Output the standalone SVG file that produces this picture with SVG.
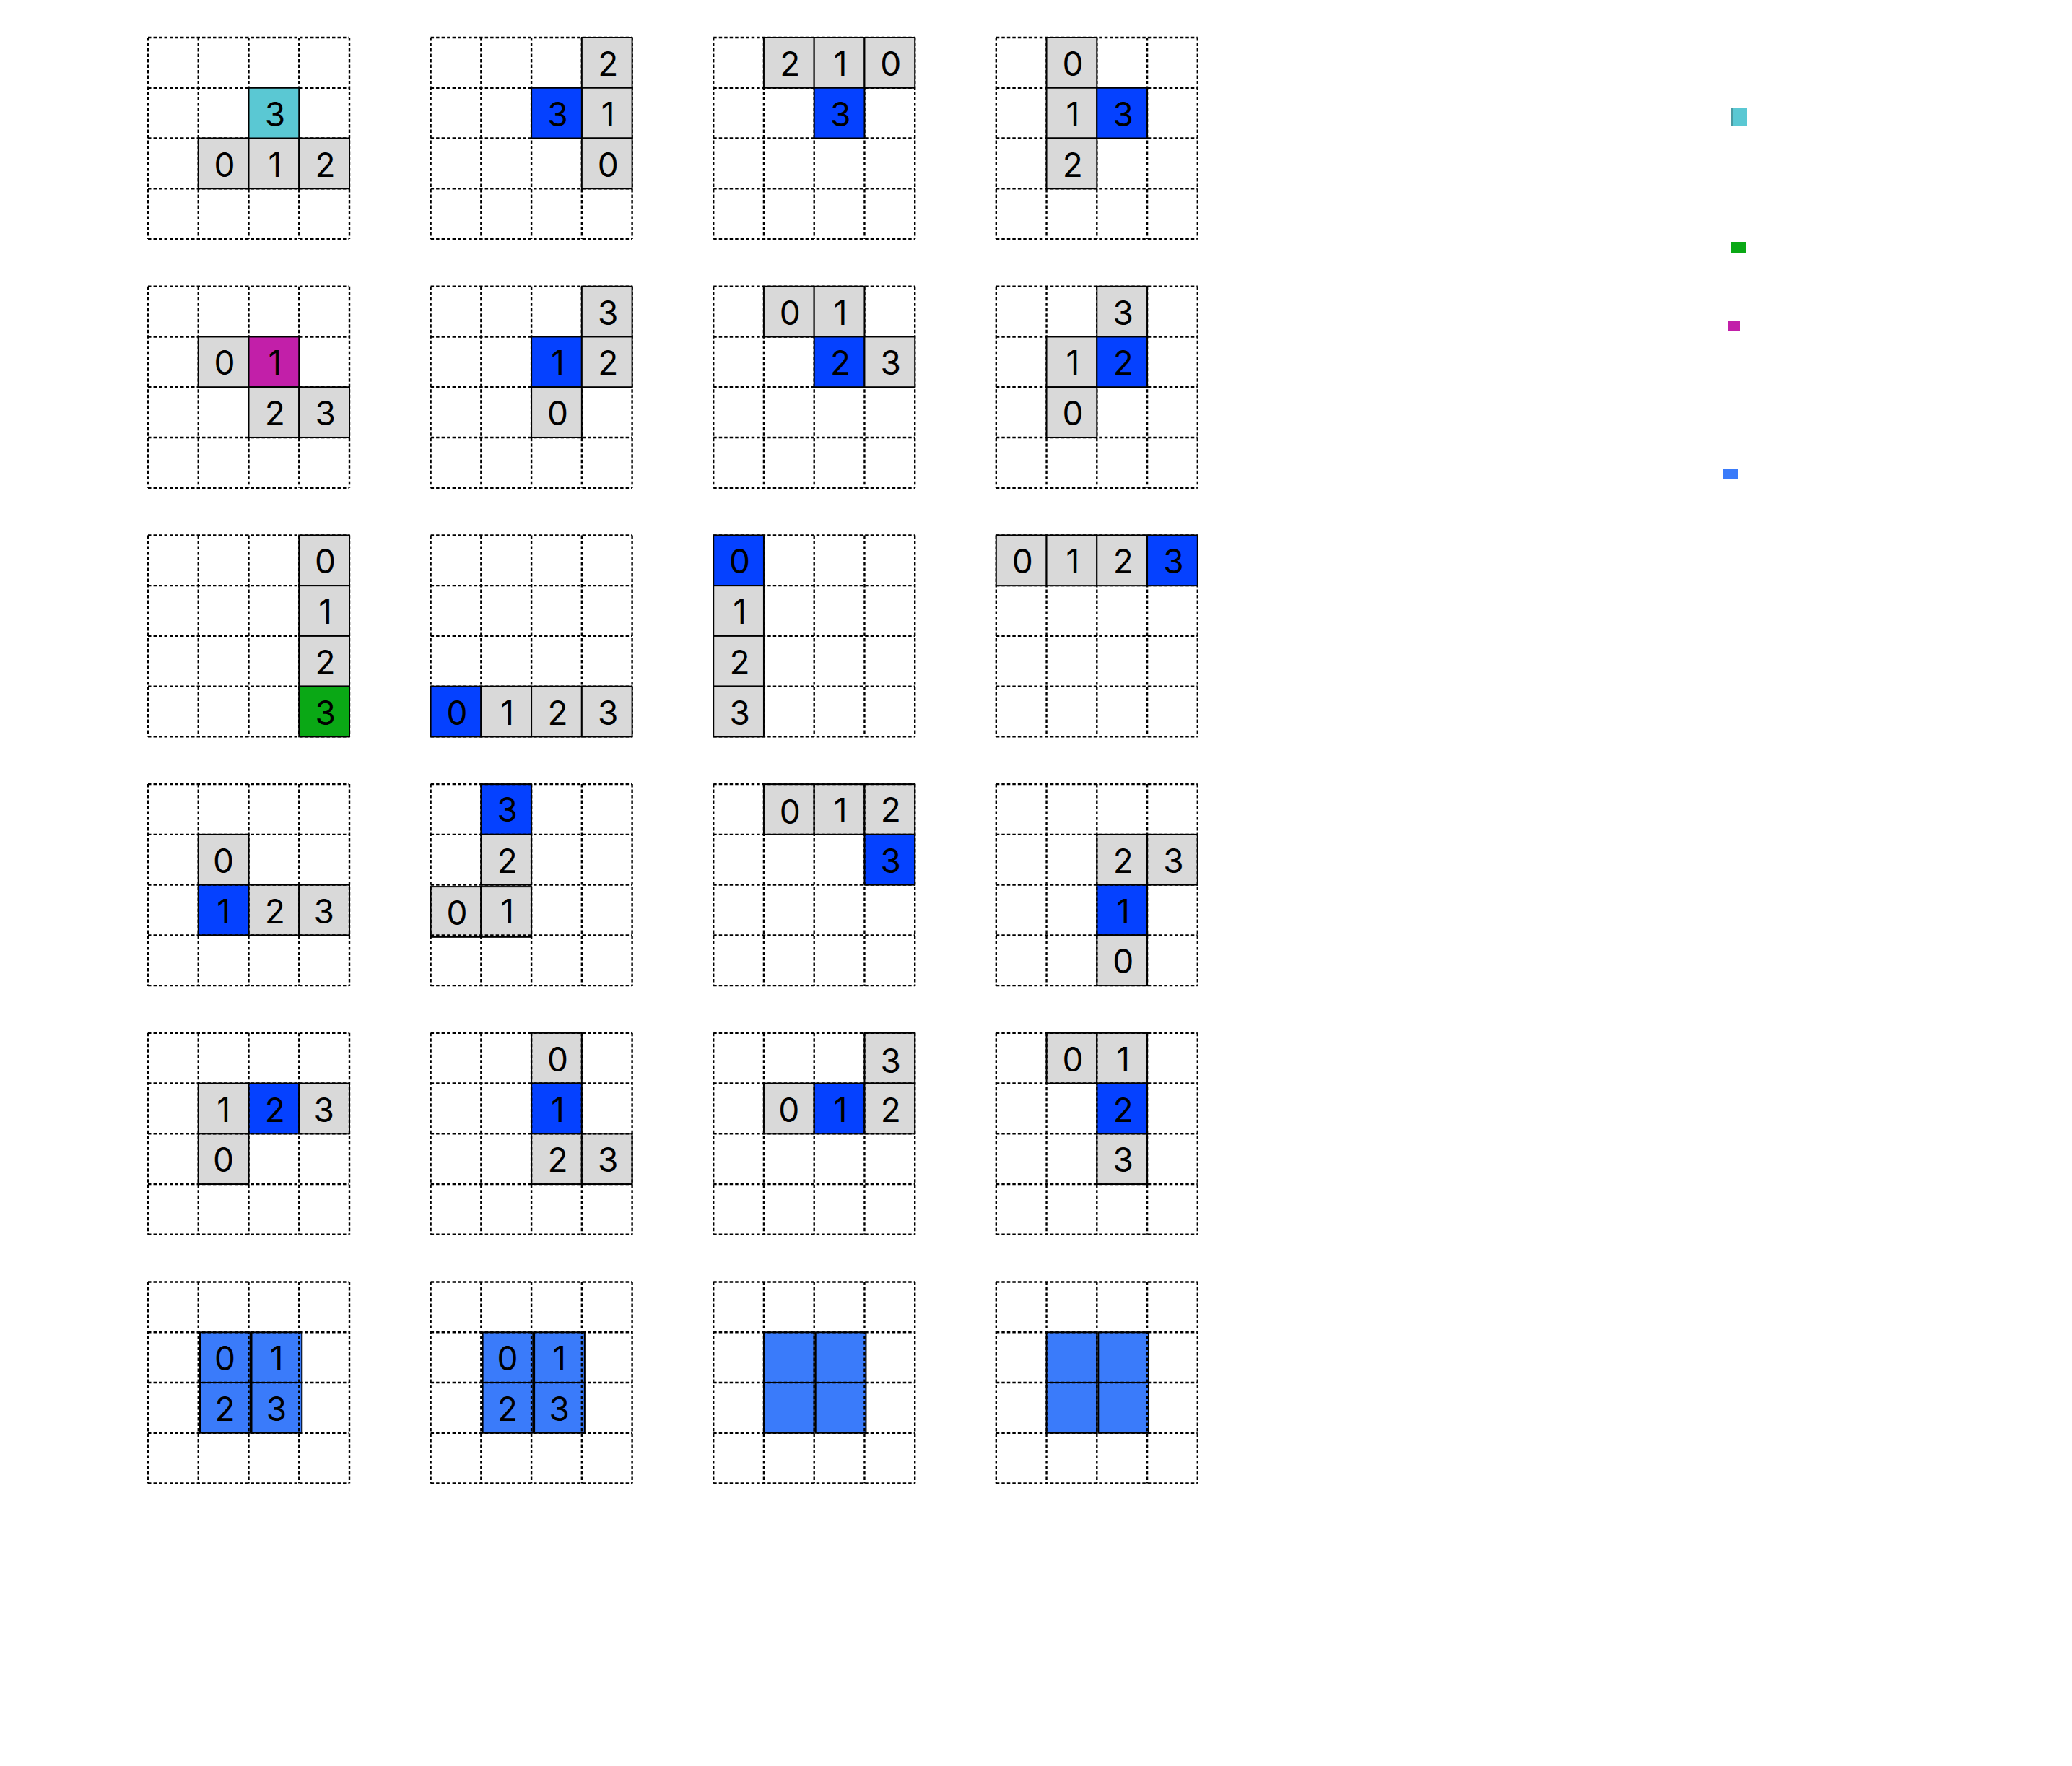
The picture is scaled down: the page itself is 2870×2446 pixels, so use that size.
<svg xmlns="http://www.w3.org/2000/svg" xmlns:xlink="http://www.w3.org/1999/xlink" width="2870" height="2446" viewBox="0 0 2870 2446">
<style>
.gl{stroke:#000;stroke-width:2.4;stroke-dasharray:4.5 3;fill:none}
.cell{stroke:#000;stroke-width:2}
.g{fill:#d9d9d9}
.b{fill:#0541ff}
.c{fill:#5ac8d3}
.m{fill:#c21fa9}
.gr{fill:#0aa815}
.lb{fill:#3a7bfa}
.t{font-family:Inter,"Liberation Sans",sans-serif;font-size:46px;text-anchor:middle;fill:#000}
</style>
<defs>
<g id="grid">
<line class="gl" x1="0" y1="0" x2="279" y2="0"/>
<line class="gl" x1="0" y1="69.75" x2="279" y2="69.75"/>
<line class="gl" x1="0" y1="139.5" x2="279" y2="139.5"/>
<line class="gl" x1="0" y1="209.25" x2="279" y2="209.25"/>
<line class="gl" x1="0" y1="279" x2="279" y2="279"/>
<line class="gl" x1="0" y1="0" x2="0" y2="279"/>
<line class="gl" x1="69.75" y1="0" x2="69.75" y2="279"/>
<line class="gl" x1="139.5" y1="0" x2="139.5" y2="279"/>
<line class="gl" x1="209.25" y1="0" x2="209.25" y2="279"/>
<line class="gl" x1="279" y1="0" x2="279" y2="279"/>
</g>
</defs>
<rect width="2870" height="2446" fill="#fff"/>
<g id="connectors"/>

<!-- Row 1 -->
<g id="p1-1" transform="translate(205,52)">
<use xlink:href="#grid"/>
<rect class="cell g" x="69.75" y="139.5" width="69.75" height="69.75"/><text class="t" x="106.1" y="192.5">0</text>
<rect class="cell g" x="139.5" y="139.5" width="69.75" height="69.75"/><text class="t" x="175.9" y="192.5">1</text>
<rect class="cell g" x="209.25" y="139.5" width="69.75" height="69.75"/><text class="t" x="245.6" y="192.5">2</text>
<rect class="cell c" x="139.5" y="69.75" width="69.75" height="69.75"/><text class="t" x="175.9" y="122.75">3</text>
</g>
<g id="p1-2" transform="translate(596.6,52)">
<use xlink:href="#grid"/>
<rect class="cell g" x="209.25" y="0" width="69.75" height="69.75"/><text class="t" x="245.6" y="53">2</text>
<rect class="cell g" x="209.25" y="69.75" width="69.75" height="69.75"/><text class="t" x="245.6" y="122.75">1</text>
<rect class="cell g" x="209.25" y="139.5" width="69.75" height="69.75"/><text class="t" x="245.6" y="192.5">0</text>
<rect class="cell b" x="139.5" y="69.75" width="69.75" height="69.75"/><text class="t" x="175.9" y="122.75">3</text>
</g>
<g id="p1-3" transform="translate(988.2,52)">
<use xlink:href="#grid"/>
<rect class="cell g" x="69.75" y="0" width="69.75" height="69.75"/><text class="t" x="106.1" y="53">2</text>
<rect class="cell g" x="139.5" y="0" width="69.75" height="69.75"/><text class="t" x="175.9" y="53">1</text>
<rect class="cell g" x="209.25" y="0" width="69.75" height="69.75"/><text class="t" x="245.6" y="53">0</text>
<rect class="cell b" x="139.5" y="69.75" width="69.75" height="69.75"/><text class="t" x="175.9" y="122.75">3</text>
</g>
<g id="p1-4" transform="translate(1379.8,52)">
<use xlink:href="#grid"/>
<rect class="cell g" x="69.75" y="0" width="69.75" height="69.75"/><text class="t" x="106.1" y="53">0</text>
<rect class="cell g" x="69.75" y="69.75" width="69.75" height="69.75"/><text class="t" x="106.1" y="122.75">1</text>
<rect class="cell g" x="69.75" y="139.5" width="69.75" height="69.75"/><text class="t" x="106.1" y="192.5">2</text>
<rect class="cell b" x="139.5" y="69.75" width="69.75" height="69.75"/><text class="t" x="175.9" y="122.75">3</text>
</g>

<!-- Row 2 -->
<g id="p2-1" transform="translate(205,396.7)">
<use xlink:href="#grid"/>
<rect class="cell g" x="69.75" y="69.75" width="69.75" height="69.75"/><text class="t" x="106.1" y="122.75">0</text>
<rect class="cell m" x="139.5" y="69.75" width="69.75" height="69.75"/><text class="t" x="175.9" y="122.75">1</text>
<rect class="cell g" x="139.5" y="139.5" width="69.75" height="69.75"/><text class="t" x="175.9" y="192.5">2</text>
<rect class="cell g" x="209.25" y="139.5" width="69.75" height="69.75"/><text class="t" x="245.6" y="192.5">3</text>
</g>
<g id="p2-2" transform="translate(596.6,396.7)">
<use xlink:href="#grid"/>
<rect class="cell g" x="209.25" y="0" width="69.75" height="69.75"/><text class="t" x="245.6" y="53">3</text>
<rect class="cell b" x="139.5" y="69.75" width="69.75" height="69.75"/><text class="t" x="175.9" y="122.75">1</text>
<rect class="cell g" x="209.25" y="69.75" width="69.75" height="69.75"/><text class="t" x="245.6" y="122.75">2</text>
<rect class="cell g" x="139.5" y="139.5" width="69.75" height="69.75"/><text class="t" x="175.9" y="192.5">0</text>
</g>
<g id="p2-3" transform="translate(988.2,396.7)">
<use xlink:href="#grid"/>
<rect class="cell g" x="69.75" y="0" width="69.75" height="69.75"/><text class="t" x="106.1" y="53">0</text>
<rect class="cell g" x="139.5" y="0" width="69.75" height="69.75"/><text class="t" x="175.9" y="53">1</text>
<rect class="cell b" x="139.5" y="69.75" width="69.75" height="69.75"/><text class="t" x="175.9" y="122.75">2</text>
<rect class="cell g" x="209.25" y="69.75" width="69.75" height="69.75"/><text class="t" x="245.6" y="122.75">3</text>
</g>
<g id="p2-4" transform="translate(1379.8,396.7)">
<use xlink:href="#grid"/>
<rect class="cell g" x="139.5" y="0" width="69.75" height="69.75"/><text class="t" x="175.9" y="53">3</text>
<rect class="cell g" x="69.75" y="69.75" width="69.75" height="69.75"/><text class="t" x="106.1" y="122.75">1</text>
<rect class="cell b" x="139.5" y="69.75" width="69.75" height="69.75"/><text class="t" x="175.9" y="122.75">2</text>
<rect class="cell g" x="69.75" y="139.5" width="69.75" height="69.75"/><text class="t" x="106.1" y="192.5">0</text>
</g>

<!-- Row 3 -->
<g id="p3-1" transform="translate(205,741.4)">
<use xlink:href="#grid"/>
<rect class="cell g" x="209.25" y="0" width="69.75" height="69.75"/><text class="t" x="245.6" y="53">0</text>
<rect class="cell g" x="209.25" y="69.75" width="69.75" height="69.75"/><text class="t" x="245.6" y="122.75">1</text>
<rect class="cell g" x="209.25" y="139.5" width="69.75" height="69.75"/><text class="t" x="245.6" y="192.5">2</text>
<rect class="cell gr" x="209.25" y="209.25" width="69.75" height="69.75"/><text class="t" x="245.6" y="262.25">3</text>
</g>
<g id="p3-2" transform="translate(596.6,741.4)">
<use xlink:href="#grid"/>
<rect class="cell b" x="0" y="209.25" width="69.75" height="69.75"/><text class="t" x="36.4" y="262.25">0</text>
<rect class="cell g" x="69.75" y="209.25" width="69.75" height="69.75"/><text class="t" x="106.1" y="262.25">1</text>
<rect class="cell g" x="139.5" y="209.25" width="69.75" height="69.75"/><text class="t" x="175.9" y="262.25">2</text>
<rect class="cell g" x="209.25" y="209.25" width="69.75" height="69.75"/><text class="t" x="245.6" y="262.25">3</text>
</g>
<g id="p3-3" transform="translate(988.2,741.4)">
<use xlink:href="#grid"/>
<rect class="cell b" x="0" y="0" width="69.75" height="69.75"/><text class="t" x="36.4" y="53">0</text>
<rect class="cell g" x="0" y="69.75" width="69.75" height="69.75"/><text class="t" x="36.4" y="122.75">1</text>
<rect class="cell g" x="0" y="139.5" width="69.75" height="69.75"/><text class="t" x="36.4" y="192.5">2</text>
<rect class="cell g" x="0" y="209.25" width="69.75" height="69.75"/><text class="t" x="36.4" y="262.25">3</text>
</g>
<g id="p3-4" transform="translate(1379.8,741.4)">
<use xlink:href="#grid"/>
<rect class="cell g" x="0" y="0" width="69.75" height="69.75"/><text class="t" x="36.4" y="53">0</text>
<rect class="cell g" x="69.75" y="0" width="69.75" height="69.75"/><text class="t" x="106.1" y="53">1</text>
<rect class="cell g" x="139.5" y="0" width="69.75" height="69.75"/><text class="t" x="175.9" y="53">2</text>
<rect class="cell b" x="209.25" y="0" width="69.75" height="69.75"/><text class="t" x="245.6" y="53">3</text>
</g>

<!-- Row 4 -->
<g id="p4-1" transform="translate(205,1086.1)">
<rect class="cell g" x="69.75" y="69.75" width="69.75" height="69.75"/><text class="t" x="104.5" y="122.75">0</text>
<rect class="cell b" x="69.75" y="139.5" width="69.75" height="69.75"/><text class="t" x="104.5" y="192.5">1</text>
<rect class="cell g" x="139.5" y="139.5" width="69.75" height="69.75"/><text class="t" x="175.9" y="192.5">2</text>
<rect class="cell g" x="209.25" y="139.5" width="69.75" height="69.75"/><text class="t" x="243.6" y="192.5">3</text>
<use xlink:href="#grid"/>
</g>
<g id="p4-2" transform="translate(596.6,1086.1)">
<rect class="cell b" x="69.75" y="0" width="69.75" height="69.75"/><text class="t" x="106.1" y="52">3</text>
<rect class="cell g" x="69.75" y="69.75" width="69.75" height="69.75"/><text class="t" x="106.1" y="122.75">2</text>
<rect class="cell g" x="0" y="142" width="69.75" height="69.75"/><text class="t" x="36.4" y="195">0</text>
<rect class="cell g" x="69.75" y="142" width="69.75" height="69.75"/><text class="t" x="106.1" y="192.5">1</text>
<use xlink:href="#grid"/>
</g>
<g id="p4-3" transform="translate(988.2,1086.1)">
<rect class="cell g" x="69.75" y="0" width="69.75" height="69.75"/><text class="t" x="106.1" y="55">0</text>
<rect class="cell g" x="139.5" y="0" width="69.75" height="69.75"/><text class="t" x="175.9" y="53">1</text>
<rect class="cell g" x="209.25" y="0" width="69.75" height="69.75"/><text class="t" x="245.6" y="52">2</text>
<rect class="cell b" x="209.25" y="69.75" width="69.75" height="69.75"/><text class="t" x="245.6" y="122.75">3</text>
<use xlink:href="#grid"/>
</g>
<g id="p4-4" transform="translate(1379.8,1086.1)">
<rect class="cell g" x="139.5" y="69.75" width="69.75" height="69.75"/><text class="t" x="175.9" y="122.75">2</text>
<rect class="cell g" x="209.25" y="69.75" width="69.75" height="69.75"/><text class="t" x="245.6" y="122.75">3</text>
<rect class="cell b" x="139.5" y="139.5" width="69.75" height="69.75"/><text class="t" x="175.9" y="192.5">1</text>
<rect class="cell g" x="139.5" y="209.25" width="69.75" height="69.75"/><text class="t" x="175.9" y="262.25">0</text>
<use xlink:href="#grid"/>
</g>

<!-- Row 5 -->
<g id="p5-1" transform="translate(205,1430.8)">
<rect class="cell g" x="69.75" y="69.75" width="69.75" height="69.75"/><text class="t" x="104.5" y="122.75">1</text>
<rect class="cell b" x="139.5" y="69.75" width="69.75" height="69.75"/><text class="t" x="175.9" y="122.75">2</text>
<rect class="cell g" x="209.25" y="69.75" width="69.75" height="69.75"/><text class="t" x="243.6" y="122.75">3</text>
<rect class="cell g" x="69.75" y="139.5" width="69.75" height="69.75"/><text class="t" x="104.5" y="192.5">0</text>
<use xlink:href="#grid"/>
</g>
<g id="p5-2" transform="translate(596.6,1430.8)">
<rect class="cell g" x="139.5" y="0" width="69.75" height="69.75"/><text class="t" x="175.9" y="53">0</text>
<rect class="cell b" x="139.5" y="69.75" width="69.75" height="69.75"/><text class="t" x="175.9" y="122.75">1</text>
<rect class="cell g" x="139.5" y="139.5" width="69.75" height="69.75"/><text class="t" x="175.9" y="192.5">2</text>
<rect class="cell g" x="209.25" y="139.5" width="69.75" height="69.75"/><text class="t" x="245.6" y="192.5">3</text>
<use xlink:href="#grid"/>
</g>
<g id="p5-3" transform="translate(988.2,1430.8)">
<rect class="cell g" x="209.25" y="0" width="69.75" height="69.75"/><text class="t" x="245.6" y="55">3</text>
<rect class="cell g" x="69.75" y="69.75" width="69.75" height="69.75"/><text class="t" x="104.5" y="122.75">0</text>
<rect class="cell b" x="139.5" y="69.75" width="69.75" height="69.75"/><text class="t" x="175.9" y="122.75">1</text>
<rect class="cell g" x="209.25" y="69.75" width="69.75" height="69.75"/><text class="t" x="245.6" y="122.75">2</text>
<use xlink:href="#grid"/>
</g>
<g id="p5-4" transform="translate(1379.8,1430.8)">
<rect class="cell g" x="69.75" y="0" width="69.75" height="69.75"/><text class="t" x="106.1" y="53">0</text>
<rect class="cell g" x="139.5" y="0" width="69.75" height="69.75"/><text class="t" x="175.9" y="53">1</text>
<rect class="cell b" x="139.5" y="69.75" width="69.75" height="69.75"/><text class="t" x="175.9" y="122.75">2</text>
<rect class="cell g" x="139.5" y="139.5" width="69.75" height="69.75"/><text class="t" x="175.9" y="192.5">3</text>
<use xlink:href="#grid"/>
</g>

<!-- Row 6 -->
<g id="p6-1" transform="translate(205,1775.5)">
<rect class="cell lb" x="72" y="69.75" width="69.75" height="69.75"/><text class="t" x="106.5" y="122.75">0</text>
<rect class="cell lb" x="143.5" y="69.75" width="69.75" height="69.75"/><text class="t" x="178" y="122.75">1</text>
<rect class="cell lb" x="72" y="139.5" width="69.75" height="69.75"/><text class="t" x="106.5" y="192.5">2</text>
<rect class="cell lb" x="143.5" y="139.5" width="69.75" height="69.75"/><text class="t" x="178" y="192.5">3</text>
<use xlink:href="#grid"/>
</g>
<g id="p6-2" transform="translate(596.6,1775.5)">
<rect class="cell lb" x="72" y="69.75" width="69.75" height="69.75"/><text class="t" x="106.5" y="122.75">0</text>
<rect class="cell lb" x="143.5" y="69.75" width="69.75" height="69.75"/><text class="t" x="178" y="122.75">1</text>
<rect class="cell lb" x="72" y="139.5" width="69.75" height="69.75"/><text class="t" x="106.5" y="192.5">2</text>
<rect class="cell lb" x="143.5" y="139.5" width="69.75" height="69.75"/><text class="t" x="178" y="192.5">3</text>
<use xlink:href="#grid"/>
</g>
<g id="p6-3" transform="translate(988.2,1775.5)">
<rect class="cell lb" x="69.75" y="69.75" width="69.75" height="69.75"/>
<rect class="cell lb" x="141.5" y="69.75" width="69.75" height="69.75"/>
<rect class="cell lb" x="69.75" y="139.5" width="69.75" height="69.75"/>
<rect class="cell lb" x="141.5" y="139.5" width="69.75" height="69.75"/>
<use xlink:href="#grid"/>
</g>
<g id="p6-4" transform="translate(1379.8,1775.5)">
<rect class="cell lb" x="69.75" y="69.75" width="69.75" height="69.75"/>
<rect class="cell lb" x="141.5" y="69.75" width="69.75" height="69.75"/>
<rect class="cell lb" x="69.75" y="139.5" width="69.75" height="69.75"/>
<rect class="cell lb" x="141.5" y="139.5" width="69.75" height="69.75"/>
<use xlink:href="#grid"/>
</g>

<!-- Legend swatches -->
<g id="legend">
<rect x="2398" y="150" width="22" height="24" fill="#5ac8d3"/>
<rect x="2398" y="150" width="2" height="24" fill="#4b9aa2"/>
<rect x="2398" y="335" width="20" height="15" fill="#0aa815"/>
<rect x="2394" y="444" width="16" height="14" fill="#c21fa9"/>
<rect x="2386" y="649" width="22" height="14" fill="#3a7bfa"/>
</g>
</svg>
